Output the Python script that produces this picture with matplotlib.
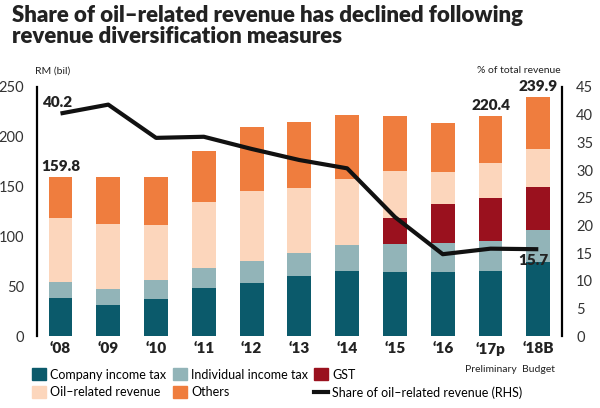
import numpy as np
import matplotlib
matplotlib.use("Agg")
import matplotlib.pyplot as plt
from matplotlib.patches import Patch
from matplotlib.lines import Line2D

years = ["\u201808", "\u201809", "\u201810", "\u201811", "\u201812", "\u201813",
         "\u201814", "\u201815", "\u201816", "\u201817p", "\u201818B"]
company = [38, 31, 37, 48, 53, 60, 65.5, 64, 64, 65.5, 74]
individual = [16, 16, 19, 20, 22.5, 23, 26, 28, 29, 29.5, 32]
gst = [0, 0, 0, 0, 0, 0, 0, 27, 40, 44, 44]
oil = [65, 66, 56, 67, 70.5, 66, 66.5, 47, 32, 35, 38]
others = [40.8, 47, 48, 51, 64, 66, 64, 55, 49, 46.4, 51.9]
oil_share = [40.2, 41.8, 35.8, 36.0, 33.8, 31.8, 30.3, 21.5, 14.8, 15.8, 15.7]
sub_labels = {9: "Preliminary", 10: "Budget"}
total_labels = {0: "159.8", 9: "220.4", 10: "239.9"}

c_company = "#0b5a6b"
c_indiv = "#92b4b8"
c_gst = "#9a111e"
c_oil = "#fcd6bc"
c_others = "#ef7d3e"

plt.rcParams["font.family"] = ["Lato", "DejaVu Sans"]

fig = plt.figure(figsize=(6, 4.08), dpi=100)
ax = fig.add_axes([0.061, 0.176, 0.876, 0.611])
ax2 = ax.twinx()

x = np.arange(len(years))
w = 0.5
bottom = np.zeros(len(years))
for vals, col in [(company, c_company), (individual, c_indiv), (gst, c_gst),
                  (oil, c_oil), (others, c_others)]:
    ax.bar(x, vals, w, bottom=bottom, color=col, zorder=2)
    bottom += np.array(vals)

ax.set_xlim(-0.5, 10.5)
ax.set_ylim(0, 250)
ax.set_yticks(range(0, 251, 50))
ax.tick_params(axis="y", length=0, pad=9, labelsize=10.5, labelcolor="#333333")
ax.tick_params(axis="x", length=0, pad=4)
ax.set_xticks(x)
ax.set_xticklabels(years, fontsize=11, fontweight="heavy", color="#222222")
for s in ["top", "right", "bottom"]:
    ax.spines[s].set_visible(False)
ax.spines["left"].set_linewidth(1.6)

ax2.plot(x, oil_share, color="#111111", lw=3, zorder=5, solid_capstyle="butt")
ax2.set_ylim(0, 45)
ax2.set_yticks(range(0, 46, 5))
ax2.tick_params(axis="y", length=0, pad=10, labelsize=10.5, labelcolor="#333333")
for s in ["top", "left", "bottom"]:
    ax2.spines[s].set_visible(False)
ax2.spines["right"].set_linewidth(1.6)

for i, t in total_labels.items():
    ax.text(x[i], bottom[i] + 4, t, ha="center", va="bottom",
            fontsize=11, fontweight="heavy", color="#222222")
ax2.text(x[0] - 0.05, oil_share[0] + 0.9, "40.2", ha="center", va="bottom",
         fontsize=11, fontweight="heavy", color="#222222")
ax2.text(x[10] - 0.1, oil_share[10] - 0.8, "15.7", ha="center", va="top",
         fontsize=11, fontweight="heavy", color="#222222", zorder=6)

for i, t in sub_labels.items():
    ax.text(x[i], -0.115, t, transform=ax.get_xaxis_transform(),
            ha="center", va="top", fontsize=7.5, color="#222222")

fig.text(0.02, 0.988, "Share of oil\u2013related revenue has declined following\nrevenue diversification measures",
         ha="left", va="top", fontsize=16, fontweight="heavy", color="#222222",
         linespacing=1.0)
fig.text(0.058, 0.826, "RM (bil)", ha="left", va="center", fontsize=7.5, color="#222222")
fig.text(0.935, 0.826, "% of total revenue", ha="right", va="center", fontsize=7.5, color="#222222")

handles = [Patch(color=c_company), Patch(color=c_indiv), Patch(color=c_gst),
           Patch(color=c_oil), Patch(color=c_others),
           Line2D([0], [0], color="#111111", lw=3)]
labels = ["Company income tax", "Individual income tax", "GST",
          "Oil\u2013related revenue", "Others", "Share of oil\u2013related revenue (RHS)"]
order = [0, 3, 1, 4, 2, 5]
leg = fig.legend([handles[i] for i in order], [labels[i] for i in order],
                 ncol=3, loc="lower left", bbox_to_anchor=(0.035, -0.005),
                 frameon=False, fontsize=9, handlelength=1.1, handleheight=1.1,
                 handletextpad=0.35, columnspacing=0.5, labelspacing=0.45)

fig.savefig("out.png", dpi=100)
